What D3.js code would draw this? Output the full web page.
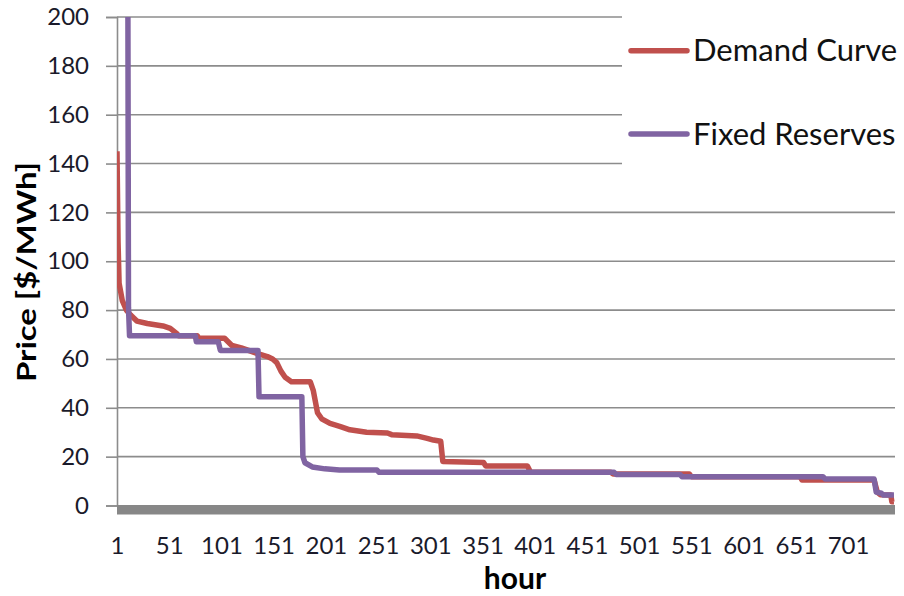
<!DOCTYPE html>
<html>
<head>
<meta charset="utf-8">
<script src="https://cdn.jsdelivr.net/npm/d3@7"></script>
<style>
  body { margin: 0; background: #fff; }
  svg { display: block; font-family: Lato, "Open Sans", sans-serif; }
</style>
</head>
<body>
<svg id="chart" width="904" height="596"></svg>
<script>
// price duration curves as (hour, price) breakpoints
const demandHours  = [1, 2, 3, 6, 10, 14, 20, 30, 45, 52, 58, 60, 78, 79, 104, 111, 120, 135, 145, 150, 154, 158, 162, 168, 186, 189, 193, 197, 205, 215, 224, 240, 260, 264, 288, 298, 304, 311, 313, 352, 354, 394, 397, 474, 476, 549, 551, 655, 657, 726, 729, 732, 742, 743, 745];
const demandPrices = [145, 108, 91, 84, 80, 78, 75.5, 74.5, 73.5, 72.5, 70.5, 69.5, 69.5, 68.5, 68.5, 65.5, 64.5, 62.3, 61, 60, 58.5, 55, 52.5, 50.7, 50.7, 47, 38, 35.5, 33.6, 32.3, 31, 30, 29.7, 29, 28.5, 27.5, 26.8, 26.3, 18, 17.6, 16.2, 16.2, 13.6, 13.6, 12.9, 12.9, 11.8, 11.8, 10.4, 10.4, 5.5, 4.4, 4.3, 1.5, 1.5];

const reserveHours  = [1, 11, 12, 13, 76, 77, 98, 100, 136, 137, 178, 179, 181, 188, 200, 214, 250, 252, 477, 479, 540, 542, 677, 679, 726, 728, 733, 735, 745];
const reservePrices = [300, 300, 81, 69.5, 69.5, 67, 67, 63.5, 63.5, 44.5, 44.5, 20, 17.5, 15.8, 15, 14.5, 14.5, 13.6, 13.6, 12.7, 12.7, 11.8, 11.8, 10.9, 10.8, 5.5, 5, 4.3, 4.3];

const xTicks = [1, 51, 101, 151, 201, 251, 301, 351, 401, 451, 501, 551, 601, 651, 701];
const yTicks = [0, 20, 40, 60, 80, 100, 120, 140, 160, 180, 200];

const seriesNames  = ["Demand Curve", "Fixed Reserves"];
const seriesColors = ["#c0504d", "#8064a2"];

const plotLeft = 117, plotRight = 895, plotTop = 17, plotBottom = 505.5;

const svg = d3.select("#chart");

const x = d3.scaleLinear().domain([1, 746]).range([plotLeft, plotRight]);
const y = d3.scaleLinear().domain([0, 200]).range([plotBottom, plotTop]);

// horizontal gridlines
svg.append("g")
  .selectAll("line")
  .data(yTicks.filter(d => d > 0))
  .join("line")
  .attr("x1", plotLeft).attr("x2", plotRight)
  .attr("y1", d => y(d)).attr("y2", d => y(d))
  .attr("stroke", "#8c8c8c")
  .attr("stroke-width", 1.6);

// y axis
const yAxis = svg.append("g")
  .attr("transform", `translate(${plotLeft},0)`)
  .call(d3.axisLeft(y).tickValues(yTicks).tickSize(11).tickPadding(17));
yAxis.select(".domain").attr("stroke", "#8c8c8c").attr("stroke-width", 1.6);
yAxis.selectAll(".tick line").attr("stroke", "#8c8c8c").attr("stroke-width", 1.6);
yAxis.selectAll(".tick text")
  .attr("font-size", 24)
  .attr("font-family", "Lato, sans-serif")
  .attr("fill", "#1a1a2a");

// thick floor band under the plot
svg.append("rect")
  .attr("x", plotLeft).attr("y", plotBottom - 0.5)
  .attr("width", plotRight - plotLeft).attr("height", 9.5)
  .attr("fill", "#878787");

// x axis labels
const xAxis = svg.append("g")
  .attr("transform", `translate(0,${plotBottom})`)
  .call(d3.axisBottom(x).tickValues(xTicks).tickSize(0).tickPadding(31));
xAxis.select(".domain").remove();
xAxis.selectAll(".tick text")
  .attr("font-size", 24)
  .attr("font-family", "Lato, sans-serif")
  .attr("fill", "#1a1a2a");

// legend box covers the gridlines on the right
svg.append("rect")
  .attr("x", 622).attr("y", 0)
  .attr("width", 904 - 622).attr("height", 190)
  .attr("fill", "#fff");

// clip lines to the plot area
svg.append("clipPath").attr("id", "plot")
  .append("rect")
  .attr("x", plotLeft).attr("y", plotTop)
  .attr("width", plotRight - plotLeft).attr("height", plotBottom - plotTop);

const line = d3.line()
  .x(d => x(d[0]))
  .y(d => y(d[1]));

const series = [
  d3.zip(demandHours, demandPrices),
  d3.zip(reserveHours, reservePrices)
];

svg.append("g")
  .attr("clip-path", "url(#plot)")
  .selectAll("path")
  .data(series)
  .join("path")
  .attr("d", line)
  .attr("fill", "none")
  .attr("stroke", (d, i) => seriesColors[i])
  .attr("stroke-width", 5.5)
  .attr("stroke-linejoin", "round");

// legend
const legendY = [50.7, 134];
const lg = svg.append("g");
lg.selectAll("line")
  .data(seriesNames)
  .join("line")
  .attr("x1", 631).attr("x2", 687)
  .attr("y1", (d, i) => legendY[i]).attr("y2", (d, i) => legendY[i])
  .attr("stroke", (d, i) => seriesColors[i])
  .attr("stroke-width", 5.5)
  .attr("stroke-linecap", "round");
lg.selectAll("text")
  .data(seriesNames)
  .join("text")
  .attr("x", 693)
  .attr("y", (d, i) => legendY[i] + 10.5)
  .attr("font-size", 31)
  .attr("fill", "#111")
  .text(d => d);

// axis titles
svg.append("text")
  .attr("transform", "translate(35.5,272) rotate(-90)")
  .attr("text-anchor", "middle")
  .attr("font-size", 26)
  .attr("font-weight", "bold")
  .attr("textLength", 220)
  .attr("lengthAdjust", "spacingAndGlyphs")
  .text("Price [$/MWh]");

svg.append("text")
  .attr("x", 515).attr("y", 589)
  .attr("text-anchor", "middle")
  .attr("font-size", 30)
  .attr("font-weight", "bold")
  .text("hour");
</script>
</body>
</html>
